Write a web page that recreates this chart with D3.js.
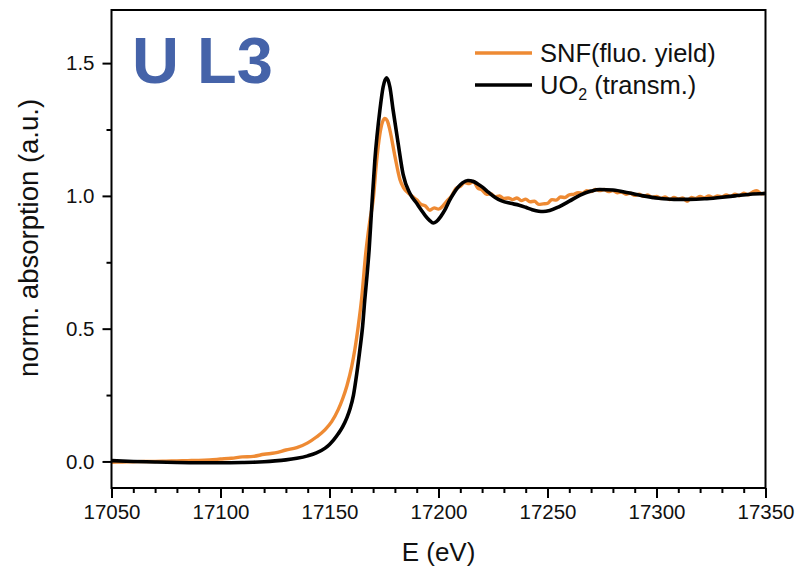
<!DOCTYPE html>
<html>
<head>
<meta charset="utf-8">
<script src="https://cdn.jsdelivr.net/npm/d3@7"></script>
<style>
  html, body { margin: 0; padding: 0; background: #ffffff; }
  svg { display: block; font-family: "Liberation Sans", Arial, sans-serif; }
</style>
</head>
<body>
<svg id="chart" width="796" height="566"></svg>
<script>
// U L3-edge XANES: spent nuclear fuel (fluorescence yield) vs UO2 reference (transmission)
const snfEnergy = [
  17050, 17055, 17060, 17065, 17070, 17075, 17080, 17085, 17090, 17095,
  17100, 17105, 17110, 17115, 17120, 17125, 17130, 17135, 17140, 17144,
  17148, 17151, 17154, 17156, 17158, 17160.2, 17161.7, 17163.2, 17164.7, 17166.7,
  17168.4, 17170.1, 17171.6, 17173.1, 17174.3, 17175.4, 17176.5, 17177.7, 17180, 17182.3,
  17184, 17186, 17188, 17190, 17192, 17194, 17196, 17198, 17200, 17202,
  17204, 17206, 17208, 17210, 17212, 17214, 17216, 17218, 17220, 17222,
  17224, 17226, 17228, 17230, 17232, 17234, 17236, 17238, 17240, 17242,
  17244, 17246, 17248, 17250, 17252, 17254, 17256, 17258, 17260, 17262,
  17264, 17266, 17268, 17270, 17272, 17274, 17276, 17278, 17280, 17282,
  17284, 17286, 17288, 17290, 17292, 17294, 17296, 17298, 17300, 17302,
  17304, 17306, 17308, 17310, 17312, 17314, 17316, 17318, 17320, 17322,
  17324, 17326, 17328, 17330, 17332, 17334, 17336, 17338, 17340, 17342,
  17344, 17346, 17348, 17350
];
const snfValue = [
  -0.003, -0.002, -0.001, 0.000, 0.000, 0.001, 0.002, 0.003, 0.004, 0.006,
  0.009, 0.012, 0.017, 0.019, 0.027, 0.032, 0.043, 0.052, 0.070, 0.092,
  0.120, 0.150, 0.195, 0.235, 0.285, 0.358, 0.425, 0.510, 0.610, 0.790,
  0.900, 0.990, 1.130, 1.232, 1.278, 1.292, 1.283, 1.248, 1.150, 1.062,
  1.030, 1.012, 0.998, 0.985, 0.968, 0.962, 0.946, 0.955, 0.950, 0.962,
  0.982, 1.000, 1.028, 1.036, 1.050, 1.046, 1.054, 1.030, 1.022, 1.006,
  1.008, 0.996, 1.000, 0.990, 0.992, 0.986, 0.992, 0.982, 0.988, 0.978,
  0.980, 0.968, 0.970, 0.972, 0.986, 0.984, 0.996, 0.994, 1.004, 1.006,
  1.012, 1.010, 1.020, 1.016, 1.024, 1.020, 1.024, 1.016, 1.020, 1.012,
  1.014, 1.006, 1.010, 1.002, 1.006, 0.998, 1.004, 0.994, 0.998, 0.990,
  0.996, 0.986, 0.994, 0.988, 0.992, 0.980, 0.994, 0.990, 0.998, 0.992,
  1.000, 0.994, 1.000, 0.996, 1.004, 0.998, 1.006, 1.000, 1.010, 1.004,
  1.014, 1.020, 1.008, 1.010
];

const uo2Energy = [
  17050, 17060, 17070, 17080, 17090, 17100, 17110, 17115, 17120, 17125,
  17130, 17135, 17140, 17144, 17148, 17150, 17152, 17154, 17156, 17158,
  17159.5, 17161, 17162.5, 17164, 17165.2, 17166.2, 17167.2, 17168.2, 17169.3, 17170.8,
  17173.1, 17174.6, 17176.2, 17177.7, 17179.2, 17181.5, 17183.8, 17186.9, 17190, 17192,
  17194, 17196, 17197.6, 17199, 17201, 17203, 17205, 17207, 17209, 17211,
  17213.5, 17216, 17218, 17220, 17223, 17226, 17229, 17233, 17237, 17240,
  17243, 17246, 17248, 17251, 17255, 17260, 17265, 17270, 17274, 17280,
  17287, 17294, 17301, 17308, 17315, 17322, 17329, 17336, 17343, 17350
];
const uo2Value = [
  0.003, 0.000, -0.002, -0.004, -0.005, -0.005, -0.004, -0.003, -0.001, 0.002,
  0.006, 0.012, 0.021, 0.032, 0.050, 0.064, 0.082, 0.104, 0.130, 0.165,
  0.200, 0.250, 0.330, 0.425, 0.510, 0.610, 0.700, 0.800, 0.947, 1.134,
  1.322, 1.410, 1.445, 1.410, 1.322, 1.197, 1.080, 1.009, 0.972, 0.948,
  0.925, 0.907, 0.898, 0.903, 0.922, 0.948, 0.982, 1.010, 1.033, 1.049,
  1.058, 1.054, 1.045, 1.034, 1.013, 0.994, 0.981, 0.972, 0.965, 0.957,
  0.948, 0.942, 0.941, 0.945, 0.958, 0.980, 1.003, 1.018, 1.024, 1.022,
  1.012, 1.000, 0.991, 0.987, 0.987, 0.989, 0.994, 1.000, 1.006, 1.009
];

const xMajorTicks = [17050, 17100, 17150, 17200, 17250, 17300, 17350];
const xMinorTicks = [17060, 17070, 17080, 17090, 17110, 17120, 17130, 17140,
  17160, 17170, 17180, 17190, 17210, 17220, 17230, 17240,
  17260, 17270, 17280, 17290, 17310, 17320, 17330, 17340];
const yMajorTicks = [0.0, 0.5, 1.0, 1.5];
const yMinorTicks = [0.25, 0.75, 1.25];

const seriesNames = ["SNF(fluo. yield)", "UO2 (transm.)"];
const seriesColors = ["#EE8A33", "#000000"];

const svg = d3.select("#chart");
const plot = { left: 111.5, right: 765.5, top: 10, bottom: 488 };

const x = d3.scaleLinear().domain([17050, 17350]).range([plot.left, plot.right]);
const y = d3.scaleLinear().domain([-0.1, 1.7]).range([plot.bottom, plot.top]);

// data lines
const line = d3.line().x(d => x(d[0])).y(d => y(d[1])).curve(d3.curveMonotoneX);
const snf = snfEnergy.map((e, i) => [e, snfValue[i]]);
const uo2 = uo2Energy.map((e, i) => [e, uo2Value[i]]);

svg.append("defs").append("clipPath").attr("id", "clip")
  .append("rect").attr("x", plot.left).attr("y", plot.top)
  .attr("width", plot.right - plot.left).attr("height", plot.bottom - plot.top);

const lines = svg.append("g").attr("clip-path", "url(#clip)");
lines.append("path").datum(snf).attr("d", line)
  .attr("fill", "none").attr("stroke", seriesColors[0]).attr("stroke-width", 3.4)
  .attr("stroke-linejoin", "round");
lines.append("path").datum(uo2).attr("d", line)
  .attr("fill", "none").attr("stroke", seriesColors[1]).attr("stroke-width", 3.6)
  .attr("stroke-linejoin", "round");

// frame
svg.append("rect")
  .attr("x", plot.left).attr("y", plot.top)
  .attr("width", plot.right - plot.left).attr("height", plot.bottom - plot.top)
  .attr("fill", "none").attr("stroke", "#000").attr("stroke-width", 2);

// bottom axis
const xAxis = svg.append("g").attr("transform", `translate(0,${plot.bottom})`)
  .call(d3.axisBottom(x).tickValues(xMajorTicks).tickFormat(d3.format("d"))
    .tickSizeInner(10).tickSizeOuter(0).tickPadding(6));
xAxis.select(".domain").remove();
xAxis.selectAll(".tick line").attr("stroke-width", 2);
xAxis.selectAll("text").attr("font-size", 20.5).attr("fill", "#111")
  .attr("font-family", "Liberation Sans, Arial, sans-serif");
svg.append("g").attr("transform", `translate(0,${plot.bottom})`)
  .call(d3.axisBottom(x).tickValues(xMinorTicks).tickFormat("").tickSizeInner(5).tickSizeOuter(0))
  .call(g => g.select(".domain").remove())
  .selectAll(".tick line").attr("stroke-width", 2);

// left axis
const yAxis = svg.append("g").attr("transform", `translate(${plot.left},0)`)
  .call(d3.axisLeft(y).tickValues(yMajorTicks).tickFormat(d3.format(".1f"))
    .tickSizeInner(9).tickSizeOuter(0).tickPadding(8));
yAxis.select(".domain").remove();
yAxis.selectAll(".tick line").attr("stroke-width", 2);
yAxis.selectAll("text").attr("font-size", 20.5).attr("fill", "#111")
  .attr("font-family", "Liberation Sans, Arial, sans-serif");
svg.append("g").attr("transform", `translate(${plot.left},0)`)
  .call(d3.axisLeft(y).tickValues(yMinorTicks).tickFormat("").tickSizeInner(5).tickSizeOuter(0))
  .call(g => g.select(".domain").remove())
  .selectAll(".tick line").attr("stroke-width", 2);

// axis titles
svg.append("text")
  .attr("x", (plot.left + plot.right) / 2).attr("y", 561)
  .attr("text-anchor", "middle").attr("font-size", 26).attr("fill", "#111")
  .text("E (eV)");
svg.append("text")
  .attr("transform", "translate(38,238) rotate(-90)")
  .attr("text-anchor", "middle").attr("font-size", 27.5).attr("fill", "#111")
  .text("norm. absorption (a.u.)");

// edge label
svg.append("text")
  .attr("x", 132).attr("y", 83)
  .attr("font-size", 65).attr("font-weight", "bold").attr("fill", "#4563A9")
  .text("U L3");

// legend
const legend = svg.append("g");
const legendRows = [53, 85];
seriesNames.forEach((name, i) => {
  legend.append("line")
    .attr("x1", 475).attr("x2", 532)
    .attr("y1", legendRows[i]).attr("y2", legendRows[i])
    .attr("stroke", seriesColors[i]).attr("stroke-width", i === 0 ? 3.4 : 3.6);
});
legend.append("text").attr("x", 540).attr("y", legendRows[0] + 9)
  .attr("font-size", 25.5).attr("fill", "#111").text(seriesNames[0]);
const uoText = legend.append("text").attr("x", 540).attr("y", legendRows[1] + 9)
  .attr("font-size", 25.5).attr("fill", "#111");
uoText.append("tspan").text("UO");
uoText.append("tspan").attr("font-size", 16).attr("dy", 6).text("2");
uoText.append("tspan").attr("dy", -6).text(" (transm.)");
</script>
</body>
</html>
